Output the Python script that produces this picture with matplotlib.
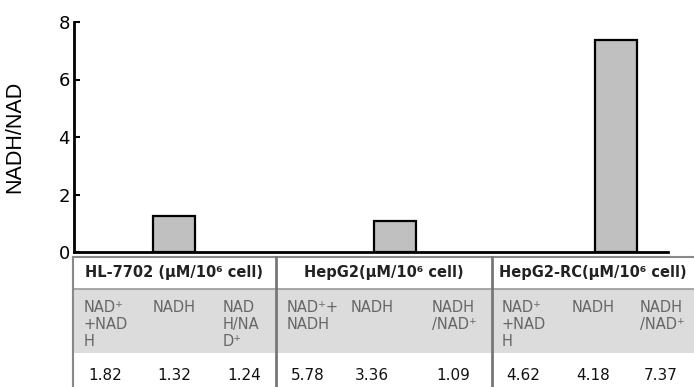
import numpy as np
import matplotlib
matplotlib.use("Agg")
import matplotlib.pyplot as plt
from matplotlib.patches import Rectangle

# data
groups = ["HL-7702 (μM/10⁶ cell)", "HepG2(μM/10⁶ cell)", "HepG2-RC(μM/10⁶ cell)"]
ratio = [1.24, 1.09, 7.37]
total = [1.82, 5.78, 4.62]
nadh = [1.32, 3.36, 4.18]
col_labels = [
    ["NAD⁺\n+NAD\nH", "NADH", "NAD\nH/NA\nD⁺"],
    ["NAD⁺+\nNADH", "NADH", "NADH\n/NAD⁺"],
    ["NAD⁺\n+NAD\nH", "NADH", "NADH\n/NAD⁺"],
]
yticks = [0, 2, 4, 6, 8]

W, H = 694, 387
fig = plt.figure(figsize=(W / 100, H / 100), dpi=100)
fig.patch.set_facecolor("white")

# bar chart
ax = fig.add_axes([74 / W, (H - 252) / H, (668 - 74) / W, (252 - 22) / H])
x = np.arange(len(ratio))
ax.bar(x, ratio, width=0.19, color="#c0c0c0", edgecolor="black", linewidth=1.6, zorder=3)
ax.set_xlim(-0.45, 2.235)
ax.set_ylim(0, 8)
ax.set_yticks(yticks)
ax.set_xticks([])
for s in ["top", "right"]:
    ax.spines[s].set_visible(False)
for s in ["left", "bottom"]:
    ax.spines[s].set_linewidth(2)
ax.tick_params(axis="y", direction="in", length=4, width=1.5, pad=3, labelsize=13)
ax.set_ylabel("NADH/NAD", fontsize=15.5, family="Liberation Sans")
ax.yaxis.set_label_coords((25 - 74) / 594, 0.5)

# table below, drawn in pixel coordinates
tb = fig.add_axes([0, 0, 1, 1], zorder=-1)
tb.set_xlim(0, W)
tb.set_ylim(H, 0)
tb.axis("off")

left, right = 73, 700
edges = [73, 276, 492, 700]
tb.add_patch(Rectangle((left, 289), right - left, 64, facecolor="#dcdcdc", edgecolor="none"))
tb.plot([left, right], [257, 257], color="#888888", lw=1.5)
tb.plot([left, right], [289, 289], color="#999999", lw=1.2)
tb.plot([left, left], [257, H], color="#888888", lw=1.5)
for e in edges[1:3]:
    tb.plot([e, e], [257, H], color="#777777", lw=2)

col_x = [[84, 153, 223], [287, 351, 432], [502, 572, 640]]
for g in range(3):
    cx = (edges[g] + min(edges[g + 1], W)) / 2
    tb.text(cx, 273, groups[g], ha="center", va="center", fontsize=10.5,
            fontweight="bold", color="#222222")
    vals = [total[g], nadh[g], ratio[g]]
    for k in range(3):
        tb.text(col_x[g][k], 300, col_labels[g][k], ha="left", va="top",
                fontsize=10.5, color="#666666", linespacing=1.15)
        tb.text(col_x[g][k] + 4, 376, "%.2f" % vals[k], ha="left", va="center",
                fontsize=11, color="#111111")

fig.savefig("out.png", dpi=100)
